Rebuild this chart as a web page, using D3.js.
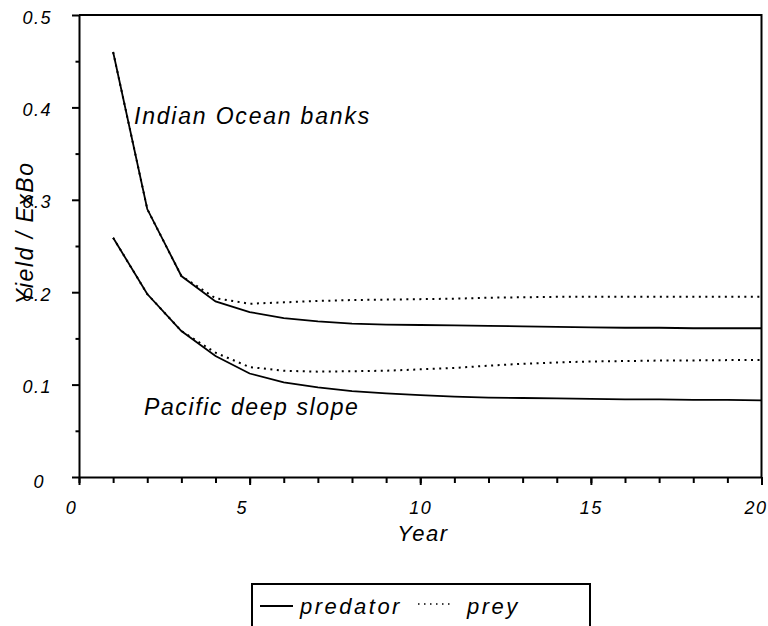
<!DOCTYPE html>
<html>
<head>
<meta charset="utf-8">
<script src="https://cdn.jsdelivr.net/npm/d3@7"></script>
<style>
  html, body { margin: 0; padding: 0; background: #fff; }
  svg { display: block; }
  text { font-family: "Liberation Sans", Arial, sans-serif; font-style: italic; fill: #000; }
</style>
</head>
<body>
<svg id="chart" width="768" height="626"></svg>
<script>
// Simulated yield per unit biomass over 20 years
const years = d3.range(1, 21);

const indianPredator = [0.46, 0.29, 0.2175, 0.19, 0.1785, 0.172, 0.1685, 0.166, 0.165, 0.1645,
                        0.164, 0.1635, 0.163, 0.1625, 0.162, 0.1615, 0.1615, 0.161, 0.161, 0.161];
const indianPrey     = [0.46, 0.29, 0.2175, 0.1935, 0.1875, 0.189, 0.1905, 0.1915, 0.192, 0.1925,
                        0.193, 0.194, 0.1945, 0.195, 0.195, 0.195, 0.195, 0.195, 0.195, 0.195];
const pacificPredator = [0.259, 0.198, 0.158, 0.131, 0.112, 0.1025, 0.097, 0.093, 0.0905, 0.0885,
                         0.087, 0.086, 0.0855, 0.085, 0.0845, 0.084, 0.084, 0.0835, 0.0835, 0.083];
const pacificPrey     = [0.259, 0.198, 0.158, 0.1345, 0.119, 0.115, 0.114, 0.1145, 0.115, 0.1165,
                         0.118, 0.1205, 0.1225, 0.124, 0.125, 0.1255, 0.126, 0.1262, 0.1265, 0.1266];

const xMajorTicks = [0, 5, 10, 15, 20];
const xMinorTicks = d3.range(0, 21);
const yMajorTicks = [0, 0.1, 0.2, 0.3, 0.4, 0.5];
const yMinorTicks = [0.05, 0.15, 0.25, 0.35, 0.45];

const seriesLabels = ["Indian Ocean banks", "Pacific deep slope"];
const legendLabels = ["predator", "prey"];

const svg = d3.select("#chart");

const x = d3.scaleLinear().domain([0, 20]).range([79, 761.5]);
const y = d3.scaleLinear().domain([0, 0.5]).range([477, 15]);

// Frame: top and right edges
svg.append("path")
  .attr("d", `M${x(0)},${y(0.5)}H${x(20)}V${y(0)}`)
  .attr("fill", "none").attr("stroke", "#000").attr("stroke-width", 2);

// Minor ticks
svg.append("g")
  .attr("transform", `translate(0,${y(0)})`)
  .call(d3.axisBottom(x).tickValues(xMinorTicks).tickSize(6).tickFormat(""))
  .call(g => g.select(".domain").remove())
  .call(g => g.selectAll("line").attr("stroke-width", 2));
svg.append("g")
  .attr("transform", `translate(${x(0)},0)`)
  .call(d3.axisLeft(y).tickValues(yMinorTicks).tickSize(3.5).tickFormat(""))
  .call(g => g.select(".domain").remove())
  .call(g => g.selectAll("line").attr("stroke-width", 2));

// Major axes
const xAxis = svg.append("g")
  .attr("transform", `translate(0,${y(0)})`)
  .call(d3.axisBottom(x).tickValues(xMajorTicks).tickSize(8).tickSizeOuter(0).tickPadding(16)
        .tickFormat(d3.format("d")));
xAxis.select(".domain").attr("stroke-width", 2);
xAxis.selectAll("line").attr("stroke-width", 2);
// single-digit labels sit a little left of their ticks; the last one is kept inside the frame
xAxis.selectAll("text")
  .attr("font-size", 18).attr("font-family", null).attr("letter-spacing", 1.5)
  .attr("dx", d => d === 20 ? -6 : (d < 10 ? -8 : 0));

const yAxis = svg.append("g")
  .attr("transform", `translate(${x(0)},0)`)
  .call(d3.axisLeft(y).tickValues(yMajorTicks).tickSize(7).tickSizeOuter(0).tickPadding(26)
        .tickFormat(d => d === 0 ? "0" : d3.format(".1f")(d)));
yAxis.select(".domain").attr("stroke-width", 2);
yAxis.selectAll("line").attr("stroke-width", 2);
yAxis.selectAll("text")
  .attr("font-size", 18).attr("font-family", null).attr("letter-spacing", 1.5)
  .attr("dy", d => d === 0 ? "0.6em" : "0.45em")
  .attr("dx", d => d === 0 ? -1 : 6)
  .attr("text-anchor", "end");

// Axis titles
svg.append("text")
  .attr("x", 423).attr("y", 541)
  .attr("text-anchor", "middle").attr("font-size", 22).attr("letter-spacing", 1.5)
  .text("Year");
svg.append("text")
  .attr("transform", `translate(33,233) rotate(-90)`)
  .attr("text-anchor", "middle").attr("font-size", 23).attr("letter-spacing", 1.5)
  .text("Yield / ExBo");

// Series lines
const line = d3.line().x((d, i) => x(years[i])).y(d => y(d));
const series = [
  { values: indianPrey, dash: "2,4.5" },
  { values: pacificPrey, dash: "2,4.5" },
  { values: indianPredator, dash: null },
  { values: pacificPredator, dash: null }
];
svg.selectAll(".series")
  .data(series)
  .join("path")
  .attr("class", "series")
  .attr("d", d => line(d.values))
  .attr("fill", "none")
  .attr("stroke", "#000")
  .attr("stroke-width", d => d.dash ? 2 : 1.8)
  .attr("stroke-dasharray", d => d.dash);

// Region labels
svg.append("text").attr("x", 134).attr("y", 124).attr("font-size", 23)
  .attr("letter-spacing", 1.8).text(seriesLabels[0]);
svg.append("text").attr("x", 144).attr("y", 415).attr("font-size", 23)
  .attr("letter-spacing", 1.6).text(seriesLabels[1]);

// Legend
const legend = svg.append("g");
legend.append("rect")
  .attr("x", 252).attr("y", 584).attr("width", 338).attr("height", 60)
  .attr("fill", "#fff").attr("stroke", "#000").attr("stroke-width", 2);
legend.append("line").attr("x1", 260).attr("x2", 293).attr("y1", 606).attr("y2", 606)
  .attr("stroke", "#000").attr("stroke-width", 2);
legend.append("text").attr("x", 300).attr("y", 614).attr("font-size", 22)
  .attr("letter-spacing", 2.5).text(legendLabels[0]);
legend.append("line").attr("x1", 418).attr("x2", 452).attr("y1", 604).attr("y2", 604)
  .attr("stroke", "#000").attr("stroke-width", 1.5).attr("stroke-dasharray", "1.5,4.5");
legend.append("text").attr("x", 467).attr("y", 614).attr("font-size", 22)
  .attr("letter-spacing", 2.5).text(legendLabels[1]);
</script>
</body>
</html>
